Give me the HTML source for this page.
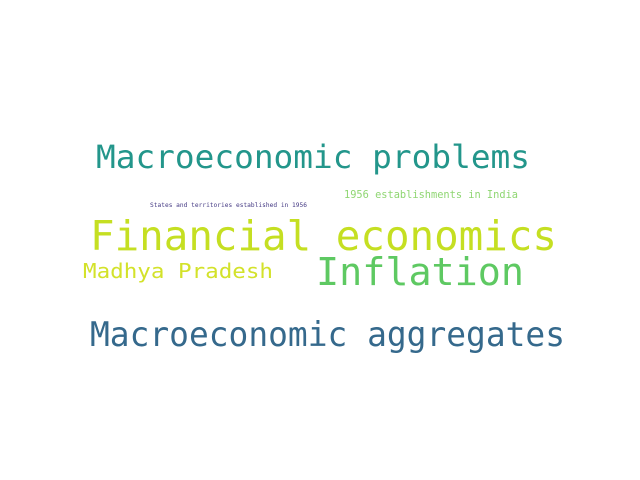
<!DOCTYPE html>
<html><head><meta charset="utf-8"><style>
html,body{margin:0;padding:0;background:#fff;}
svg{display:block;}
text{font-family:"DejaVu Sans Mono","Liberation Mono",monospace;}
</style></head><body>
<svg width="640" height="480" viewBox="0 0 640 480">
<rect width="640" height="480" fill="#fff"/>
<text x="96" y="168" font-size="32" fill="#23968b" textLength="434" lengthAdjust="spacingAndGlyphs">Macroeconomic problems</text>
<text x="344" y="198" font-size="11" fill="#8fd672" textLength="174" lengthAdjust="spacingAndGlyphs">1956 establishments in India</text>
<text x="150" y="207" font-size="6.5" fill="#443983" textLength="157" lengthAdjust="spacingAndGlyphs">States and territories established in 1956</text>
<text x="90" y="250" font-size="41" fill="#c5df22" textLength="467" lengthAdjust="spacingAndGlyphs">Financial economics</text>
<text x="83" y="278" font-size="20" fill="#d3e22a" textLength="190" lengthAdjust="spacingAndGlyphs">Madhya Pradesh</text>
<text x="316" y="285" font-size="38" fill="#5ec962" textLength="208" lengthAdjust="spacingAndGlyphs">Inflation</text>
<text x="90" y="346" font-size="34" fill="#35698c" textLength="475" lengthAdjust="spacingAndGlyphs">Macroeconomic aggregates</text>
</svg>
</body></html>
